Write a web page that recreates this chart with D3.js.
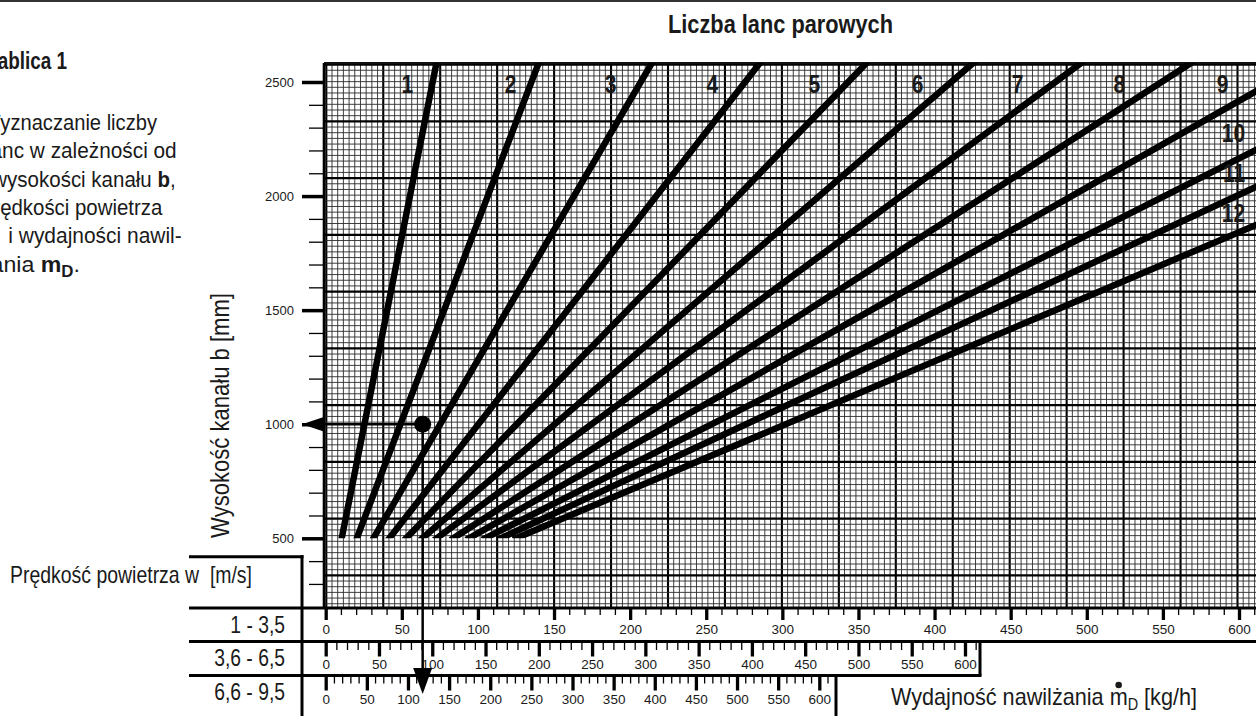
<!DOCTYPE html>
<html><head><meta charset="utf-8">
<script src="https://cdn.jsdelivr.net/npm/d3@7"></script>
<style>html,body{margin:0;padding:0;background:#fff;overflow:hidden}svg{display:block}</style>
</head><body>
<svg id="chart" width="1256" height="716"></svg>
<script>
// ---------------- data ----------------
const curveIds   = [1, 2, 3, 4, 5, 6, 7, 8, 9, 10, 11, 12];
const startB     = 500;     // every line starts at b = 500 mm
const midB       = 1500;
const mAtStart   = [10.5, 20.4, 31.3, 41.8, 52.8, 63.5, 72.9, 83.8, 94.1, 104.7, 115.0, 125.0];
const mAtMid     = [40.4, 77.8, 119.2, 158.8, 198.2, 237.4, 276.4, 316.7, 358.3, 402.5, 437.5, 479.3];
const mAtEnd     = [72.9, 140.2, 214.7, 285.8, 356.0, 426.2, 497.3, 569.6, 611, 611, 611, 611];
const bAtEnd     = [2588, 2588, 2588, 2588, 2588, 2588, 2588, 2588, 2459, 2202, 2040, 1873];
const labelM     = [53.6, 121.5, 187.2, 254.0, 321.0, 388.9, 454.6, 521.4, 589.3, 604, 604, 604];
const labelB     = [2452, 2452, 2452, 2452, 2452, 2452, 2452, 2452, 2452, 2238, 2063, 1888];
const yMajorTicks = [500, 1000, 1500, 2000, 2500];
const yMinorTicks = [300, 400, 600, 700, 800, 900, 1100, 1200, 1300, 1400, 1600, 1700, 1800, 1900, 2100, 2200, 2300, 2400];
const xMajorTicks = [0, 50, 100, 150, 200, 250, 300, 350, 400, 450, 500, 550, 600];
const rowLabels   = ["1 - 3,5", "3,6 - 6,5", "6,6 - 9,5"];
const exampleB = 1000;
const exampleM = 63.7;

// ---------------- layout ----------------
const W = 1256, H = 716;
const svg = d3.select('#chart');
const gx0 = 324, gx1 = 1256, gy0 = 63, gy1 = 608;
const x = d3.scaleLinear().domain([0, 600]).range([325.7, 1239]);
const y = d3.scaleLinear().domain([500, 2500]).range([538.3, 82]);
const rowEnd = [1239, 965, 819.3];
const rowTop = [608, 641.5, 675.5];
const rowMajorLen = [12, 15, 15], rowMinorLen = [7, 8.5, 8];
const rowLabelTop = [624, 659, 694.3];
const xr = rowEnd.map(e => d3.scaleLinear().domain([0, 600]).range([325.7, e]));

const FONT = '"Liberation Sans", Arial, Helvetica, sans-serif';
const INK = '#1a1a1a';

function label(parent, o) {
  const sx = o.sx || 1;
  const t = parent.append('text')
    .attr('font-family', FONT).attr('font-size', o.size)
    .attr('font-weight', o.bold ? 'bold' : 'normal')
    .attr('text-anchor', o.anchor || 'start').attr('fill', INK)
    .style('white-space', 'pre');
  let tr = `translate(${o.x},${o.y})`;
  if (o.rotate) tr += ` rotate(${o.rotate})`;
  if (sx !== 1) tr += ` scale(${sx},1)`;
  if (o.len) t.attr('textLength', o.len / sx).attr('lengthAdjust', o.adj || 'spacingAndGlyphs');
  t.attr('transform', tr);
  (o.parts || [{ t: o.text }]).forEach(p => {
    const s = t.append('tspan').text(p.t);
    if (p.bold) s.attr('font-weight', 'bold');
    if (p.size) s.attr('font-size', p.size);
    if (p.dy) s.attr('dy', p.dy);
  });
  return t;
}

// top rule
svg.append('line').attr('x1', 0).attr('x2', W).attr('y1', 1).attr('y2', 1)
  .attr('stroke', '#333').attr('stroke-width', 2);

// ---------------- graph paper ----------------
const defs = svg.append('defs');
defs.append('clipPath').attr('id', 'gridClip').append('rect')
  .attr('x', gx0).attr('y', gy0).attr('width', gx1 - gx0).attr('height', gy1 - gy0);
defs.append('clipPath').attr('id', 'curveClip').append('rect')
  .attr('x', gx0).attr('y', gy0).attr('width', gx1 - gx0).attr('height', y(startB) - gy0);

const grid = svg.append('g').attr('clip-path', 'url(#gridClip)');
const majX = 56.95, majY = 56.75, orgX = 326.3, orgY = 64.6;
const fX = majX / 10, fY = majY / 10;
const vIdx = d3.range(Math.floor((gx0 - orgX) / fX), Math.ceil((gx1 - orgX) / fX) + 1);
const hIdx = d3.range(Math.floor((gy0 - orgY) / fY), Math.ceil((gy1 - orgY) / fY) + 1);
grid.selectAll('line.v').data(vIdx).join('line')
  .attr('x1', k => orgX + k * fX).attr('x2', k => orgX + k * fX)
  .attr('y1', gy0).attr('y2', gy1)
  .attr('stroke', k => k % 10 === 0 ? '#000' : '#2a2a2a')
  .attr('stroke-width', k => k % 10 === 0 ? 2.1 : 0.9);
grid.selectAll('line.h').data(hIdx).join('line')
  .attr('y1', k => orgY + k * fY).attr('y2', k => orgY + k * fY)
  .attr('x1', gx0).attr('x2', gx1)
  .attr('stroke', k => k % 10 === 0 ? '#000' : '#2a2a2a')
  .attr('stroke-width', k => k % 10 === 0 ? 2.1 : 0.9);

// borders
svg.append('line').attr('x1', gx0).attr('x2', gx1).attr('y1', gy0).attr('y2', gy0)
  .attr('stroke', '#111').attr('stroke-width', 2);
svg.append('line').attr('x1', gx0).attr('x2', gx0).attr('y1', gy0).attr('y2', gy1)
  .attr('stroke', '#000').attr('stroke-width', 2.6);

// ---------------- curves ----------------
const curves = curveIds.map((id, i) => ({
  id, pts: [[mAtStart[i], startB], [mAtMid[i], midB], [mAtEnd[i], bAtEnd[i]]]
}));
const lineGen = d3.line().x(d => x(d[0])).y(d => y(d[1]));
svg.append('g').attr('clip-path', 'url(#curveClip)')
  .selectAll('path').data(curves).join('path')
  .attr('d', d => lineGen(d.pts))
  .attr('fill', 'none').attr('stroke', '#000').attr('stroke-width', 6.5)
  .attr('stroke-linecap', 'square');

// curve labels
curveIds.forEach((id, i) => {
  label(svg, {
    x: x(labelM[i]), y: y(labelB[i]), size: 25, bold: true, sx: 0.84,
    anchor: id >= 10 ? 'end' : 'middle', text: String(id)
  });
});

// ---------------- y axis ----------------
const gyMinor = svg.append('g').attr('transform', `translate(${gx0},0)`)
  .call(d3.axisLeft(y).tickValues(yMinorTicks).tickSize(15).tickFormat(''));
gyMinor.select('.domain').remove();
gyMinor.selectAll('line').attr('stroke', '#000').attr('stroke-width', 1.3);

const gyMajor = svg.append('g').attr('transform', `translate(${gx0},0)`)
  .call(d3.axisLeft(y).tickValues(yMajorTicks).tickSize(22).tickPadding(8).tickFormat(d3.format('d')));
gyMajor.select('.domain').remove();
gyMajor.selectAll('line').attr('stroke', '#000').attr('stroke-width', 3.5);
gyMajor.selectAll('text').attr('font-family', FONT).attr('font-size', 13).attr('fill', INK);

label(svg, { x: 229, y: 415.5, rotate: -90, anchor: 'middle', size: 25, len: 245,
  text: 'Wysokość kanału b [mm]' });

// ---------------- bottom scales ----------------
const frame = svg.append('g').attr('stroke', '#000').attr('fill', 'none');
frame.append('line').attr('x1', 189).attr('x2', 303.5).attr('y1', 556.7).attr('y2', 556.7).attr('stroke-width', 3);
frame.append('line').attr('x1', 302).attr('x2', 302).attr('y1', 555.2).attr('y2', H).attr('stroke-width', 3);
frame.append('line').attr('x1', 189).attr('x2', W).attr('y1', rowTop[0]).attr('y2', rowTop[0]).attr('stroke-width', 3.2);
frame.append('line').attr('x1', 189).attr('x2', W).attr('y1', rowTop[1]).attr('y2', rowTop[1]).attr('stroke-width', 3.2);
frame.append('line').attr('x1', 189).attr('x2', 981.5).attr('y1', rowTop[2]).attr('y2', rowTop[2]).attr('stroke-width', 3.2);
frame.append('line').attr('x1', 980).attr('x2', 980).attr('y1', rowTop[1]).attr('y2', rowTop[2]).attr('stroke-width', 3);
frame.append('line').attr('x1', 836).attr('x2', 836).attr('y1', rowTop[2]).attr('y2', H).attr('stroke-width', 3);

const minorVals = d3.range(0, 611, 10).filter(v => v % 50 !== 0);
xr.forEach((sc, i) => {
  const gMin = svg.append('g').attr('transform', `translate(0,${rowTop[i]})`)
    .call(d3.axisBottom(sc).tickValues(minorVals).tickSize(rowMinorLen[i]).tickFormat(''));
  gMin.select('.domain').remove();
  gMin.selectAll('line').attr('stroke', '#000').attr('stroke-width', 1.3);
  const gMaj = svg.append('g').attr('transform', `translate(0,${rowTop[i]})`)
    .call(d3.axisBottom(sc).tickValues(xMajorTicks).tickSize(rowMajorLen[i])
      .tickPadding(rowLabelTop[i] - rowTop[i] - rowMajorLen[i]).tickFormat(d3.format('d')));
  gMaj.select('.domain').remove();
  gMaj.selectAll('line').attr('stroke', '#000').attr('stroke-width', 3.3);
  gMaj.selectAll('text').attr('font-family', FONT).attr('font-size', 13.5).attr('fill', INK);
});

const rowBase = [632.7, 666, 700];
rowLabels.forEach((t, i) => label(svg, { x: 285, y: rowBase[i], anchor: 'end', size: 23, sx: 0.84, text: t }));

label(svg, { x: 10, y: 583, size: 24, len: 242, text: 'Prędkość powietrza w\u00a0\u00a0[m/s]' });

const xl = label(svg, { x: 891, y: 705, size: 24, len: 306, parts: [
  { t: 'Wydajność nawilżania ' }, { t: 'm' },
  { t: 'D', size: 16, dy: 5 }, { t: '\u00a0[kg/h]', dy: -5 } ] });
// dot over m
(function () {
  const el = xl.node();
  const idx = 'Wydajność nawilżania '.length;
  let cx = 1117.3;
  try {
    const ext = el.getExtentOfChar(idx);
    const pt = el.ownerSVGElement.createSVGPoint();
    pt.x = ext.x + ext.width / 2; pt.y = ext.y;
    cx = pt.matrixTransform(el.getCTM()).x;
  } catch (e) {}
  svg.append('circle').attr('cx', cx).attr('cy', 685).attr('r', 3.3).attr('fill', INK);
})();

// ---------------- title & side text ----------------
label(svg, { x: 780.5, y: 33, anchor: 'middle', size: 26, bold: true, len: 225, text: 'Liczba lanc parowych' });
label(svg, { x: -12.5, y: 69, size: 23, bold: true, len: 79.5, text: 'Tablica 1' });
const para = [
  { y: 130,   x0: -18.5, len: 175.5, parts: [{ t: 'Wyznaczanie liczby' }] },
  { y: 158.3, x0: -14.1, len: 190.8, parts: [{ t: 'lanc w zależności od' }] },
  { y: 186.7, x0: -7.7,  len: 183.4, parts: [{ t: 'wysokości kanału ' }, { t: 'b', bold: true }, { t: ',' }] },
  { y: 215,   x0: -18,   len: 180.3, parts: [{ t: 'prędkości powietrza' }] },
  { y: 243.3, x0: 8.3,   len: 173.4, parts: [{ t: 'i wydajności nawil-' }] },
  { y: 271.7, x0: -21,   len: 101,   parts: [{ t: 'żania ' }, { t: 'm', bold: true }, { t: 'D', bold: true, size: 16, dy: 5 }, { t: '.', dy: -5 }] }
];
para.forEach(p => label(svg, { x: p.x0, y: p.y, size: 22, len: p.len, parts: p.parts }));

// ---------------- worked example ----------------
const ex = x(exampleM), ey = y(exampleB);
const exg = svg.append('g');
exg.append('line').attr('x1', gx0).attr('x2', ex).attr('y1', ey).attr('y2', ey)
  .attr('stroke', '#000').attr('stroke-width', 2.5);
exg.append('line').attr('x1', ex).attr('x2', ex).attr('y1', ey).attr('y2', 670)
  .attr('stroke', '#000').attr('stroke-width', 2.5);
exg.append('circle').attr('cx', ex).attr('cy', ey).attr('r', 8.5).attr('fill', '#000');
exg.append('path').attr('d', `M${gx0 - 22},${ey} L${gx0 - 1},${ey - 7} L${gx0 - 1},${ey + 7} Z`).attr('fill', '#000');
exg.append('path').attr('d', `M${ex - 9.5},668 L${ex + 9.5},668 L${ex},694 Z`).attr('fill', '#000');
</script>
</body></html>
